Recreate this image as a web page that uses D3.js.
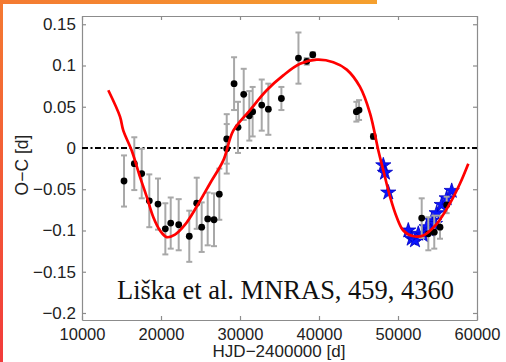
<!DOCTYPE html>
<meta charset="utf-8">
<style>
  body { margin: 0; background: #fff; }
  .chart text { font-family: "Liberation Sans", Arial, sans-serif; fill: #222; }
  .chart text.note { font-family: "Liberation Serif", "Times New Roman", serif; fill: #111; }
  .axis path, .axis line { stroke: #8c8c8c; stroke-width: 1.2px; }
</style>
<body>
<svg class="chart"></svg>
<script src="https://cdn.jsdelivr.net/npm/d3@7"></script>
<script>

  var w = 506, h = 362;

  // observed minima (black points with error bars)
  var obsX = [15320, 16620, 17560, 18520, 19620, 20550, 21230, 22240, 23580, 24520, 25150, 25910, 26710, 27380,
              28320, 28320, 29250, 29750, 30470, 31180, 31600, 32750, 33590, 35240, 37400, 38450, 39210,
              44730, 45070, 46880, 53000, 53840, 54590, 55320, 56160];
  var obsY = [-0.040, -0.019, -0.031, -0.064, -0.068, -0.098, -0.091, -0.093, -0.107, -0.067, -0.096, -0.086, -0.087, -0.056,
              0.011, -0.001, 0.078, 0.025, 0.065, 0.039, 0.044, 0.052, 0.047, 0.060, 0.109, 0.105, 0.113,
              0.044, 0.046, 0.014, -0.085, -0.104, -0.102, -0.096, -0.069];
  var obsErr = [0.031, 0.032, 0.030, 0.032, 0.031, 0.031, 0.031, 0.031, 0.031, 0.031, 0.030, 0.032, 0.032, 0.031,
                0.030, 0.030, 0.032, 0.031, 0.031, 0.030, 0.030, 0.031, 0.031, 0.014, 0.031, 0.004, 0.003,
                0.012, 0.012, 0.003, 0.024, 0.020, 0.020, 0.014, 0.010];

  // new minima (blue stars)
  var starX = [48140, 48350, 48770, 51300, 51730, 52150, 52570, 53200, 53630, 54050, 54270, 54680, 54900, 55530, 56160, 56800];
  var starY = [-0.021, -0.030, -0.054, -0.100, -0.110, -0.112, -0.104, -0.106, -0.096, -0.100, -0.088, -0.092, -0.079, -0.069, -0.061, -0.052];

  // fitted curve (red)
  var fitX = [13330, 14810, 15230, 16290, 17340, 18190, 19030, 19870, 20720, 21770, 23040, 24520, 26200, 27890,
              29150, 31270, 33380, 35480, 37600, 39710, 41810, 43510, 45190, 46460, 47510, 48140, 48990,
              49840, 50670, 51940, 53200, 54900, 56580, 57850, 58900];
  var fitY = [0.070, 0.038, 0.021, -0.003, -0.035, -0.059, -0.084, -0.100, -0.108, -0.105, -0.093, -0.071, -0.043, -0.015,
              0.021, 0.046, 0.070, 0.088, 0.102, 0.107, 0.104, 0.095, 0.074, 0.042, -0.003, -0.027, -0.059,
              -0.084, -0.100, -0.107, -0.106, -0.092, -0.067, -0.043, -0.019];

  var xTicks = [10000, 20000, 30000, 40000, 50000, 60000];
  var yTicks = [-0.2, -0.15, -0.1, -0.05, 0, 0.05, 0.1, 0.15];
  var yTickLabels = ["\u22120.2", "\u22120.15", "\u22120.1", "\u22120.05", "0", "0.05", "0.1", "0.15"];

  var svg = d3.select(".chart").attr("width", w).attr("height", h);

  // slide frame (orange strips)
  var defs = svg.append("defs");
  var gl = defs.append("linearGradient").attr("id", "gl").attr("x1", 0).attr("y1", 0).attr("x2", 0).attr("y2", 1);
  gl.append("stop").attr("offset", "0%").attr("stop-color", "#f47a32");
  gl.append("stop").attr("offset", "100%").attr("stop-color", "#f23b3b");
  var gt = defs.append("linearGradient").attr("id", "gt");
  gt.append("stop").attr("offset", "0%").attr("stop-color", "#f47a32");
  gt.append("stop").attr("offset", "100%").attr("stop-color", "#f5a02e");

  svg.append("rect").attr("x", 0).attr("y", 0).attr("width", 377).attr("height", 4).attr("fill", "url(#gt)");
  svg.append("rect").attr("x", 0).attr("y", 0).attr("width", 3).attr("height", h).attr("fill", "url(#gl)");

  var x = d3.scaleLinear().domain([10000, 60000]).range([82, 477]);
  var y = d3.scaleLinear().domain([-0.2085, 0.16]).range([320, 16]);

  // axes box
  var yFmt = function (d) { return yTickLabels[yTicks.indexOf(d)]; };

  svg.append("g").attr("class", "axis").attr("transform", "translate(0,320)")
    .call(d3.axisBottom(x).tickValues(xTicks).tickSizeInner(-4).tickSizeOuter(0).tickPadding(8).tickFormat(d3.format("d")))
    .call(function (g) { g.selectAll("text").style("font-size", "16.5px"); });
  svg.append("g").attr("class", "axis").attr("transform", "translate(0,16)")
    .call(d3.axisTop(x).tickValues(xTicks).tickSizeInner(-4).tickSizeOuter(0).tickFormat(""));
  svg.append("g").attr("class", "axis").attr("transform", "translate(82,0)")
    .call(d3.axisLeft(y).tickValues(yTicks).tickSizeInner(-4).tickSizeOuter(0).tickPadding(6).tickFormat(yFmt))
    .call(function (g) { g.selectAll("text").style("font-size", "17px"); });
  svg.append("g").attr("class", "axis").attr("transform", "translate(477,0)")
    .call(d3.axisRight(y).tickValues(yTicks).tickSizeInner(-4).tickSizeOuter(0).tickFormat(""));

  // zero line
  svg.append("line")
    .attr("x1", x(10000)).attr("x2", x(60000))
    .attr("y1", y(0)).attr("y2", y(0))
    .attr("stroke", "#000").attr("stroke-width", 2)
    .attr("stroke-dasharray", "6,2.5,2,2.5");

  // stars
  svg.selectAll("path.star").data(starX).enter().append("path")
    .attr("class", "star")
    .attr("d", d3.symbol().type(d3.symbolStar).size(72))
    .attr("transform", function (d, i) { return "translate(" + x(d) + "," + y(starY[i]) + ")"; })
    .attr("fill", "#0a14ff").attr("stroke", "#0000c0").attr("stroke-width", 0.8);

  // error bars
  var eb = svg.selectAll("g.eb").data(obsX).enter().append("g").attr("class", "eb")
    .attr("stroke", "#a8a8a8").attr("stroke-width", 2);
  eb.append("line")
    .attr("x1", function (d) { return x(d); }).attr("x2", function (d) { return x(d); })
    .attr("y1", function (d, i) { return y(obsY[i] - obsErr[i]); })
    .attr("y2", function (d, i) { return y(obsY[i] + obsErr[i]); });
  [-1, 1].forEach(function (s) {
    eb.append("line")
      .attr("x1", function (d) { return x(d) - 3; }).attr("x2", function (d) { return x(d) + 3; })
      .attr("y1", function (d, i) { return y(obsY[i] + s * obsErr[i]); })
      .attr("y2", function (d, i) { return y(obsY[i] + s * obsErr[i]); });
  });

  // points
  svg.selectAll("circle.obs").data(obsX).enter().append("circle")
    .attr("class", "obs")
    .attr("cx", function (d) { return x(d); })
    .attr("cy", function (d, i) { return y(obsY[i]); })
    .attr("r", 3.4)
    .attr("fill", "#000");

  // fit
  var line = d3.line()
    .x(function (d) { return x(d); })
    .y(function (d, i) { return y(fitY[i]); })
    .curve(d3.curveCatmullRom);
  svg.append("path").datum(fitX)
    .attr("d", line)
    .attr("fill", "none").attr("stroke", "#ff0000").attr("stroke-width", 2.7);

  // labels
  svg.append("text")
    .attr("x", 279).attr("y", 357)
    .attr("text-anchor", "middle")
    .style("font-size", "17px")
    .text("HJD\u22122400000 [d]");

  svg.append("text")
    .attr("transform", "translate(28,165) rotate(-90)")
    .attr("text-anchor", "middle")
    .style("font-size", "17.5px")
    .text("O\u2212C [d]");

  svg.append("text")
    .attr("class", "note")
    .attr("x", 117).attr("y", 299)
    .style("font-size", "26.5px")
    .text("Liška et al. MNRAS, 459, 4360");

</script>
</body>
